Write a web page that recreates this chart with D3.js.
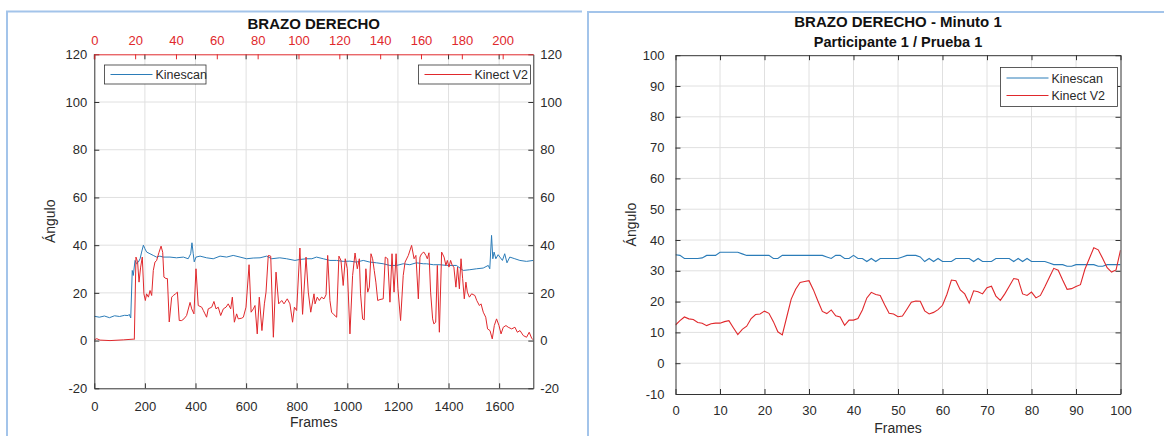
<!DOCTYPE html>
<html><head><meta charset="utf-8">
<script src="https://cdn.jsdelivr.net/npm/d3@7"></script>
<style>body{margin:0;background:#fff}svg{display:block}</style>
</head><body><svg id="c" width="1164" height="436"></svg>
<script>
const leftTitle = "BRAZO DERECHO";
const rightTitle = ["BRAZO DERECHO - Minuto 1", "Participante 1 / Prueba 1"];
const seriesNames = ["Kinescan", "Kinect V2"];
const axisLabelX = "Frames";
const axisLabelY = "Ángulo";
const leftXTicks = [0, 200, 400, 600, 800, 1000, 1200, 1400, 1600];
const leftTopTicks = [0, 20, 40, 60, 80, 100, 120, 140, 160, 180, 200];
const leftYTicks = [-20, 0, 20, 40, 60, 80, 100, 120];
const rightXTicks = [0, 10, 20, 30, 40, 50, 60, 70, 80, 90, 100];
const rightYTicks = [-10, 0, 10, 20, 30, 40, 50, 60, 70, 80, 90, 100];
const leftFrameMax = 1735;
const leftTopMax = 215;

// Left chart: Kinescan [frame, angle] (bottom axis)
const kinescanLeft = [[0,10.2],[20,9.8],[40,10.3],[60,9.6],[80,10.4],[100,10.1],[120,10.6],[134,10.5],[138,11],[144,9.5],[150,29.4],[154,27.3],[161,33.6],[167,32.2],[174,32.9],[181,34.3],[187,37.1],[194,40],[200,38.5],[207,37.1],[220,36.4],[233,35.7],[246,35],[259,35.4],[273,35],[299,35],[325,34.7],[352,35],[371,34.3],[381,36.4],[386,41],[391,36.4],[395,33],[402,35],[418,35.4],[444,34.7],[470,34.3],[497,35.4],[523,35],[549,35.7],[576,35],[602,34.3],[628,34.6],[655,34.7],[681,35.4],[701,34.3],[733,34.7],[760,34.3],[793,33.6],[812,34],[839,34.3],[860,34.3],[878,35],[905,34.3],[931,33.6],[957,33.6],[984,33.2],[1010,33.3],[1036,32.9],[1063,33.6],[1089,32.9],[1115,32.6],[1142,32.2],[1168,31.5],[1195,31.5],[1221,32.2],[1247,31.8],[1273,32.6],[1300,32.2],[1313,32.2],[1340,31.8],[1366,31.8],[1392,31.5],[1431,31.5],[1458,29.4],[1484,29.7],[1511,30.1],[1537,30.4],[1557,31.5],[1563,30.1],[1570,44.1],[1575,34.3],[1580,37.1],[1587,34.3],[1596,36],[1603,35],[1613,33.6],[1622,36.4],[1631,32.6],[1642,35],[1662,34.3],[1682,33.6],[1708,33.2],[1735,33.6]];

// Left chart: Kinect V2 [sample, angle] (top axis)
const kinectLeft = [[0,0.3],[1.2,0.8],[2.8,0.2],[7.7,0],[14.2,0.3],[19.1,0.6],[19.6,0.5],[20.4,35],[21.2,33],[21.9,24.5],[22.7,30.8],[23.5,35],[24.3,19.6],[25,16.8],[25.6,19.6],[26.5,18.2],[27.3,21],[28.1,18.9],[28.9,29.4],[29.7,32.9],[30.5,33.5],[31.7,37],[32.7,39.6],[33.5,37],[34.1,26.6],[35.1,26],[35.8,26],[36.7,7.8],[37.9,18.2],[38.7,18.9],[39.8,19.6],[40.7,20.3],[41.6,8.4],[42.8,8.4],[43.9,9.1],[45.2,10.5],[46.9,16],[47.7,13.3],[48.8,11.2],[49.8,30.1],[50.9,14.7],[52.6,14],[53.4,12.6],[54.2,11.2],[55,9.8],[55.8,13.3],[57.5,14],[58.6,16.4],[59.6,13.3],[60.7,14],[61.9,10.5],[63.2,13.3],[64.5,14],[65.6,15.4],[66.8,13.3],[67.6,18.2],[68.6,7.7],[69.7,11.2],[70.5,9.1],[72.2,9.4],[73,9.8],[74.3,14],[75.8,31.8],[76.8,11.9],[77.9,13.3],[78.7,14.7],[79.8,2.8],[80.8,18.2],[82.1,4.2],[83.3,15.4],[84.1,20.3],[85.2,35.7],[86.4,35.4],[87.7,1.4],[89,28.7],[90.3,15.4],[91.8,16.8],[92.9,15.4],[94.5,17.5],[95.8,15.4],[97.1,7.7],[98,14],[99.1,12.6],[100.7,38.8],[102,11],[103.7,35],[104.8,20.3],[106,11.9],[107.6,19.6],[108.1,15.4],[109.2,18.2],[110.2,16.8],[111.3,18.2],[112.5,17.5],[113.5,19.2],[114.3,35.7],[115.4,16.8],[116.2,11.9],[117.4,10.8],[118.7,9.8],[119.8,35.4],[120.8,33.6],[121.9,23.1],[122.9,34.3],[123.9,30.1],[125.2,2.8],[126.5,27.3],[127.7,36.7],[128.8,30.1],[129.8,34.3],[130.4,19.6],[131.4,9.1],[132.2,8.7],[133,30.1],[133.9,20.3],[134.7,22.4],[135.5,36.4],[136.3,34.3],[137.1,29.4],[137.9,24.5],[138.8,16.8],[139.9,17.2],[141.5,17.5],[142.5,35],[143.7,34.3],[144.8,16.1],[145.8,36.4],[146.8,20.3],[147.8,36.4],[148.7,21.7],[150,8.4],[151.3,27.3],[152.2,32.9],[153.8,35.7],[155.4,39.9],[156.6,34.3],[157.5,35.7],[158.7,17.5],[159.5,35],[160.3,36.4],[161.4,37.1],[162.4,35.7],[163.1,34.3],[163.9,36.8],[164.7,20.3],[165.7,9.1],[166.3,7],[167.2,7.7],[168,31.5],[169,3.5],[170.1,37.1],[171.3,35],[172.2,31.5],[172.9,33.6],[173.7,30.8],[174.5,33.6],[175.3,31.5],[176.1,30.8],[177.1,22.4],[177.9,30.8],[178.8,21.7],[179.6,34.3],[180.4,25.9],[181.2,17.5],[182,24.5],[182.7,20.3],[183.7,18.2],[184.8,19.6],[186.4,18.9],[187.3,16.8],[188.6,14.7],[189.4,15.4],[190.5,11.9],[191.7,9.8],[192.6,4.9],[193.8,4.2],[194.9,0.7],[195.9,6.3],[197,9.1],[198.2,6.3],[199.2,2.8],[200.3,5.6],[201.6,6.3],[202.7,5.6],[204.4,4.9],[206,5.6],[207.2,3.5],[208.5,4.2],[210.1,2.1],[211.7,1.4],[213,3.5],[214.2,1],[215,0.3]];

// Right chart: frames 0..100
const kinescanRight = [35.2,35,34,34,34,34,34.2,35,35,35, 36,36,36,36,36,35.5,35,35,35,35, 35,35,34,34,35,35,35,35,35,35, 35,35,35,35,34.5,34,35,35,34,34, 35,34,34,33,34,33,34,34,34,34, 34,34.5,35,35,35,34.5,33,34,33,34, 33,33,33,34,34,34,34,33,34,33, 33,33,34,34,34,34,33,34,33,34, 33,33,33,33,32.5,32,32,32,31.5,31.5, 32,32,32,32,32,31.5,31.5,32,32,32, 32];
const kinectRight = [12.4,13.8,15,14.4,14.2,13.2,13,12.2,12.8,13, 13,13.5,13.8,11.5,9.3,11,12,14.5,15.8,16, 16.9,16.2,13.5,10.2,9.2,15,20.8,24,26.2,26.5, 26.8,23.8,20.2,16.8,16.1,17.3,15.4,15,12.3,14, 14,14.5,17.3,21.2,23,22.3,22,19,16.2,16, 15.1,15.3,17.5,19.8,20.2,20.1,17,16,16.5,17.4, 18.8,22.4,27,26.8,23.8,22.5,19.5,23.5,23.2,22.5, 24.5,25,21.8,20.4,22.5,25,27.5,27.2,22.5,22, 23.1,21.2,22,24.8,27.8,30.8,30.2,27,24,24.2, 24.9,25.5,30.5,34,37.5,36.8,34,31,29.6,30.3, 36.7];

const FONT = '"Liberation Sans", Arial, Helvetica, sans-serif';
const BLUE = "#2b7cb8", RED = "#e0282c", AXC = "#333333", GRID = "#e0e0e0", TXT = "#2a2a2a", FRAME = "#a3c4ea";
const fmt = d => String(d);

const svg = d3.select("#c");
svg.append("rect").attr("width",1164).attr("height",436).attr("fill","#fff");

// panel frames
svg.append("path").attr("d","M7,436V11.5H582").attr("fill","none").attr("stroke",FRAME).attr("stroke-width",2);
svg.append("path").attr("d","M588,436V12H1164").attr("fill","none").attr("stroke",FRAME).attr("stroke-width",2);

function styleAxis(g, color, txtColor, size) {
  g.attr("font-family", FONT).attr("font-size", size);
  g.select(".domain").attr("stroke", color).attr("stroke-width", 1);
  g.selectAll(".tick line").attr("stroke", color);
  g.selectAll(".tick text").attr("fill", txtColor);
}

// ================= LEFT CHART =================
(function(){
  const L = 94.3, R = 533.3, T = 54.3, B = 388.3;
  const xB = d3.scaleLinear().domain([0, leftFrameMax]).range([L, R]);
  const xT = d3.scaleLinear().domain([0, leftTopMax]).range([L, R]);
  const y = d3.scaleLinear().domain([-20, 120]).range([B, T]);
  const g = svg.append("g");
  g.append("rect").attr("x",L).attr("y",T).attr("width",R-L).attr("height",B-T).attr("fill","#fff");
  g.selectAll(".gx").data(leftXTicks.filter(d=>d>0)).join("line")
    .attr("x1",d=>xB(d)).attr("x2",d=>xB(d)).attr("y1",T).attr("y2",B).attr("stroke",GRID);
  g.selectAll(".gy").data(leftYTicks.filter(d=>d>-20 && d<120)).join("line")
    .attr("x1",L).attr("x2",R).attr("y1",d=>y(d)).attr("y2",d=>y(d)).attr("stroke",GRID);
  svg.append("clipPath").attr("id","clipL").append("rect").attr("x",L).attr("y",T).attr("width",R-L).attr("height",B-T);
  g.append("path").datum(kinescanLeft).attr("clip-path","url(#clipL)")
    .attr("d", d3.line().x(d=>xB(d[0])).y(d=>y(d[1])))
    .attr("fill","none").attr("stroke",BLUE).attr("stroke-width",1);
  g.append("path").datum(kinectLeft).attr("clip-path","url(#clipL)")
    .attr("d", d3.line().x(d=>xT(d[0])).y(d=>y(d[1])))
    .attr("fill","none").attr("stroke",RED).attr("stroke-width",1);

  const ax = g.append("g").attr("transform",`translate(0,${B})`)
    .call(d3.axisBottom(xB).tickValues(leftXTicks).tickFormat(fmt).tickSizeInner(-5).tickSizeOuter(0).tickPadding(13));
  styleAxis(ax, AXC, TXT, 13);
  const ay = g.append("g").attr("transform",`translate(${L},0)`)
    .call(d3.axisLeft(y).tickValues(leftYTicks).tickFormat(fmt).tickSizeInner(-5).tickSizeOuter(0).tickPadding(7));
  styleAxis(ay, AXC, TXT, 13);
  const ay2 = g.append("g").attr("transform",`translate(${R},0)`)
    .call(d3.axisRight(y).tickValues(leftYTicks).tickFormat(fmt).tickSizeInner(-5).tickSizeOuter(0).tickPadding(7));
  styleAxis(ay2, AXC, TXT, 13);
  g.selectAll(".mt").data(leftXTicks).join("line")
    .attr("x1",d=>xB(d)).attr("x2",d=>xB(d)).attr("y1",T).attr("y2",T+5).attr("stroke",AXC);
  const at = g.append("g").attr("transform",`translate(0,${T})`)
    .call(d3.axisTop(xT).tickValues(leftTopTicks).tickFormat(fmt).tickSizeInner(-5).tickSizeOuter(0).tickPadding(9));
  styleAxis(at, RED, RED, 13);

  g.append("text").attr("x",(L+R)/2).attr("y",29).attr("text-anchor","middle")
    .attr("font-family",FONT).attr("font-size",15).attr("font-weight","bold").attr("fill","#111").text(leftTitle);
  g.append("text").attr("x",(L+R)/2).attr("y",427).attr("text-anchor","middle")
    .attr("font-family",FONT).attr("font-size",14).attr("fill",TXT).text(axisLabelX);
  g.append("text").attr("transform",`translate(55,${(T+B)/2}) rotate(-90)`).attr("text-anchor","middle")
    .attr("font-family",FONT).attr("font-size",14).attr("fill",TXT).text(axisLabelY);

  function legend(x0, y0, w, h, color, name, lineLen) {
    const lg = g.append("g");
    lg.append("rect").attr("x",x0).attr("y",y0).attr("width",w).attr("height",h).attr("fill","#fff").attr("stroke",AXC).attr("stroke-width",0.8);
    lg.append("line").attr("x1",x0+6).attr("x2",x0+6+lineLen).attr("y1",y0+h/2).attr("y2",y0+h/2).attr("stroke",color);
    lg.append("text").attr("x",x0+9+lineLen).attr("y",y0+h/2+4.5).attr("font-family",FONT).attr("font-size",12.5).attr("fill",TXT).text(name);
  }
  legend(104.5, 65, 101.5, 19, BLUE, seriesNames[0], 42);
  legend(418.5, 65, 112, 19, RED, seriesNames[1], 47);
})();

// ================= RIGHT CHART =================
(function(){
  const L = 675.5, R = 1120.5, T = 55.2, B = 394;
  const x = d3.scaleLinear().domain([0, 100]).range([L, R]);
  const y = d3.scaleLinear().domain([-10, 100]).range([B, T]);
  const g = svg.append("g");
  g.append("rect").attr("x",L).attr("y",T).attr("width",R-L).attr("height",B-T).attr("fill","#fff");
  g.selectAll(".gx").data(rightXTicks.filter(d=>d>0 && d<100)).join("line")
    .attr("x1",d=>x(d)).attr("x2",d=>x(d)).attr("y1",T).attr("y2",B).attr("stroke",GRID);
  g.selectAll(".gy").data(rightYTicks.filter(d=>d>-10 && d<100)).join("line")
    .attr("x1",L).attr("x2",R).attr("y1",d=>y(d)).attr("y2",d=>y(d)).attr("stroke",GRID);
  svg.append("clipPath").attr("id","clipR").append("rect").attr("x",L).attr("y",T).attr("width",R-L).attr("height",B-T);
  const line = d3.line().x((d,i)=>x(i)).y(d=>y(d));
  g.append("path").datum(kinescanRight).attr("clip-path","url(#clipR)").attr("d",line)
    .attr("fill","none").attr("stroke",BLUE).attr("stroke-width",1.1);
  g.append("path").datum(kinectRight).attr("clip-path","url(#clipR)").attr("d",line)
    .attr("fill","none").attr("stroke",RED).attr("stroke-width",1.1);

  const ax = g.append("g").attr("transform",`translate(0,${B})`)
    .call(d3.axisBottom(x).tickValues(rightXTicks).tickFormat(fmt).tickSizeInner(-5).tickSizeOuter(0).tickPadding(11.5));
  styleAxis(ax, AXC, TXT, 13);
  const ay = g.append("g").attr("transform",`translate(${L},0)`)
    .call(d3.axisLeft(y).tickValues(rightYTicks).tickFormat(fmt).tickSizeInner(-5).tickSizeOuter(0).tickPadding(11));
  styleAxis(ay, AXC, TXT, 13);
  const at = g.append("g").attr("transform",`translate(0,${T})`)
    .call(d3.axisTop(x).tickValues(rightXTicks).tickSizeInner(-5).tickSizeOuter(0).tickFormat(""));
  styleAxis(at, AXC, TXT, 13);
  const ar = g.append("g").attr("transform",`translate(${R},0)`)
    .call(d3.axisRight(y).tickValues(rightYTicks).tickSizeInner(-5).tickSizeOuter(0).tickFormat(""));
  styleAxis(ar, AXC, TXT, 13);

  g.append("text").attr("x",(L+R)/2).attr("y",27).attr("text-anchor","middle")
    .attr("font-family",FONT).attr("font-size",15).attr("font-weight","bold").attr("fill","#111").text(rightTitle[0]);
  g.append("text").attr("x",(L+R)/2).attr("y",47).attr("text-anchor","middle")
    .attr("font-family",FONT).attr("font-size",14.5).attr("font-weight","bold").attr("fill","#111").text(rightTitle[1]);
  g.append("text").attr("x",(L+R)/2).attr("y",433).attr("text-anchor","middle")
    .attr("font-family",FONT).attr("font-size",14).attr("fill",TXT).text(axisLabelX);
  g.append("text").attr("transform",`translate(636,${(T+B)/2}) rotate(-90)`).attr("text-anchor","middle")
    .attr("font-family",FONT).attr("font-size",14).attr("fill",TXT).text(axisLabelY);

  const lx = 1000.5, ly = 67.5, lw = 117, lh = 39;
  const lg = g.append("g");
  lg.append("rect").attr("x",lx).attr("y",ly).attr("width",lw).attr("height",lh).attr("fill","#fff").attr("stroke",AXC).attr("stroke-width",0.8);
  const rows = [[seriesNames[0], BLUE],[seriesNames[1], RED]];
  rows.forEach((r,i)=>{
    const yy = ly + 10.5 + i*17.5;
    lg.append("line").attr("x1",lx+6).attr("x2",lx+48).attr("y1",yy).attr("y2",yy).attr("stroke",r[1]);
    lg.append("text").attr("x",lx+51).attr("y",yy+4.5).attr("font-family",FONT).attr("font-size",12.5).attr("fill",TXT).text(r[0]);
  });
})();
</script>
</body></html>
